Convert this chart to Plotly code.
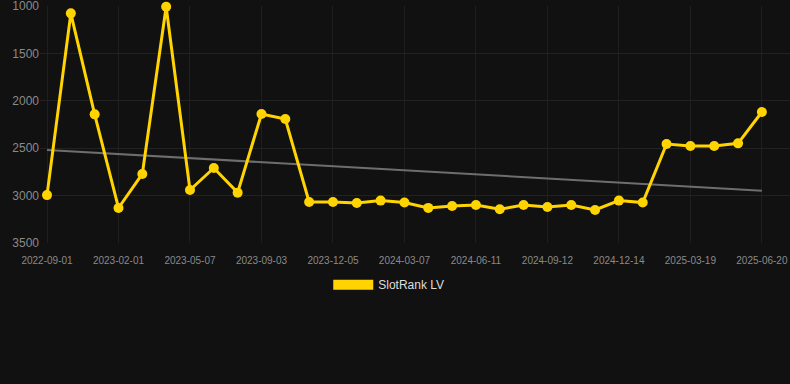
import plotly.graph_objects as go

dates = [
    "2022-09-01", "2022-10-20", "2022-12-10", "2023-02-01", "2023-03-05",
    "2023-04-05", "2023-05-07", "2023-06-15", "2023-07-25", "2023-09-03",
    "2023-10-04", "2023-11-04", "2023-12-05", "2024-01-05", "2024-02-05",
    "2024-03-07", "2024-04-08", "2024-05-10", "2024-06-11", "2024-07-12",
    "2024-08-12", "2024-09-12", "2024-10-13", "2024-11-13", "2024-12-14",
    "2025-01-15", "2025-02-16", "2025-03-19", "2025-04-19", "2025-05-20",
    "2025-06-20",
]
ranks = [
    2995, 1077, 2143, 3131, 2772, 1007, 2941, 2709, 2969, 2139,
    2192, 3067, 3067, 3078, 3053, 3074, 3130, 3110, 3099, 3145,
    3099, 3120, 3099, 3152, 3053, 3074, 2456, 2477, 2477, 2449,
    2118,
]
trend_x = [dates[0], dates[-1]]
trend_y = [2519, 2948]
tick_labels = dates[::3]
y_ticks = [1000, 1500, 2000, 2500, 3000, 3500]

YELLOW = "#FFD400"

fig = go.Figure()
fig.add_trace(go.Scatter(
    x=trend_x, y=trend_y, mode="lines",
    line=dict(color="#6e6e6e", width=2),
    showlegend=False, hoverinfo="skip",
))
fig.add_trace(go.Scatter(
    x=dates, y=ranks, mode="lines+markers",
    line=dict(color=YELLOW, width=3),
    marker=dict(color=YELLOW, size=10),
    showlegend=False, cliponaxis=False,
))
fig.add_trace(go.Scatter(
    x=[None], y=[None], mode="lines", name="SlotRank LV",
    line=dict(color=YELLOW, width=12),
))

fig.update_layout(
    width=790, height=384,
    paper_bgcolor="#111111", plot_bgcolor="#111111",
    margin=dict(l=40, r=0, t=6, b=141),
    font=dict(family="Liberation Sans, Arial, sans-serif", color="#8a8a8a"),
    showlegend=True,
    legend=dict(
        orientation="h", x=0.465, xanchor="center", y=-0.115, yanchor="top",
        itemwidth=40,
        font=dict(size=12, color="#dddddd"), bgcolor="rgba(0,0,0,0)",
    ),
)
fig.update_xaxes(
    type="category", categoryorder="array", categoryarray=dates,
    tickvals=tick_labels, ticktext=tick_labels,
    range=[-0.294, 31.18],
    showgrid=True, gridcolor="#1f1f1f", gridwidth=1,
    zeroline=False, showline=False, ticks="",
    ticklabelstandoff=10,
    tickfont=dict(size=10, color="#8a8a8a"),
)
fig.update_yaxes(
    autorange=False, range=[3500.5, 999.5],
    tickvals=y_ticks, ticklabeloverflow="allow",
    showgrid=True, gridcolor="#222222", gridwidth=1,
    zeroline=False, showline=False, ticks="",
    tickfont=dict(size=12, color="#8a8a8a"),
)

fig.write_html(
    "out.html",
    config={"displayModeBar": False},
    post_script="document.body.style.margin='0';document.body.style.background='#111111';document.body.style.overflow='hidden';",
)
